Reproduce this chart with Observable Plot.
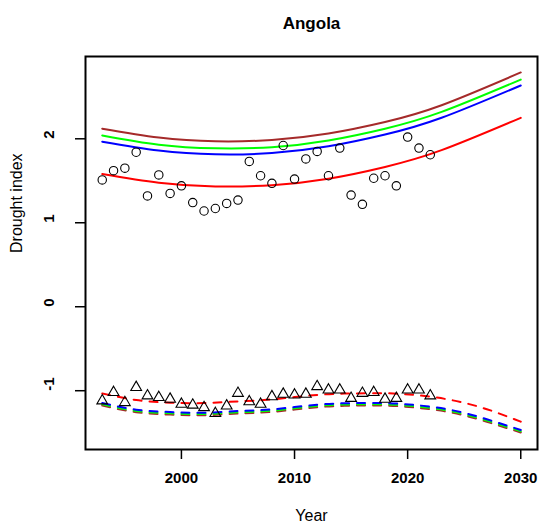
<!DOCTYPE html>
<html>
<head>
<meta charset="utf-8">
<script src="https://cdn.jsdelivr.net/npm/d3@7"></script>
<script src="https://cdn.jsdelivr.net/npm/@observablehq/plot@0.6"></script>
<style>
  html, body { margin: 0; padding: 0; background: #fff; }
</style>
</head>
<body>
<div id="chart"></div>
<script>
// Observed drought index per year (circles: index A, triangles: index B)
const years = d3.range(1993, 2023);
const obsCircles = [1.51, 1.62, 1.65, 1.84, 1.32, 1.57, 1.35, 1.44, 1.24, 1.14,
                    1.17, 1.23, 1.27, 1.73, 1.56, 1.47, 1.92, 1.52, 1.76, 1.85,
                    1.56, 1.89, 1.33, 1.22, 1.53, 1.56, 1.44, 2.02, 1.89, 1.81];
const obsTriangles = [-1.12, -1.02, -1.14, -0.96, -1.06, -1.08, -1.10, -1.16, -1.17, -1.20,
                      -1.27, -1.18, -1.03, -1.13, -1.16, -1.07, -1.04, -1.05, -1.04, -0.95,
                      -0.99, -0.99, -1.09, -1.03, -1.02, -1.10, -1.09, -0.99, -0.99, -1.06];

// Projected trends (solid: upper index, dashed: lower index)
const trendYears = [1993, 1998, 2003, 2008, 2013, 2018, 2023, 2030];
const solidBrown = [2.12, 2.015, 1.97, 1.986, 2.063, 2.20, 2.40, 2.79];
const solidGreen = [2.04, 1.93, 1.887, 1.90, 1.98, 2.12, 2.32, 2.705];
const solidBlue  = [1.965, 1.86, 1.815, 1.83, 1.91, 2.05, 2.25, 2.635];
const solidRed   = [1.58, 1.477, 1.432, 1.448, 1.525, 1.665, 1.865, 2.25];

const dashYears = [1993, 1996, 1999, 2002, 2005, 2008, 2012, 2015, 2018, 2021, 2024, 2027, 2030];
const dashRed   = [-1.032, -1.111, -1.143, -1.147, -1.127, -1.103, -1.05, -1.033, -1.03, -1.055, -1.115, -1.22, -1.369];
const dashBlue  = [-1.147, -1.226, -1.254, -1.262, -1.242, -1.222, -1.167, -1.148, -1.147, -1.175, -1.234, -1.34, -1.468];
const dashGreen = [-1.162, -1.241, -1.269, -1.277, -1.257, -1.237, -1.182, -1.163, -1.162, -1.19, -1.249, -1.355, -1.483];
const dashBrown = [-1.177, -1.256, -1.284, -1.292, -1.272, -1.252, -1.197, -1.178, -1.177, -1.205, -1.264, -1.37, -1.498];

const xTicks = [2000, 2010, 2020, 2030];
const yTicks = [-1, 0, 1, 2];

const zip = (xs, ys) => xs.map((x, i) => ({year: x, value: ys[i]}));

const trendLine = (xs, ys, color, dashed) =>
  Plot.line(zip(xs, ys), {
    x: "year", y: "value", stroke: color, strokeWidth: 2,
    curve: "natural", strokeDasharray: dashed ? "8,8" : null
  });

const chart = Plot.plot({
  width: 542,
  height: 526,
  marginLeft: 85,
  marginRight: 5,
  marginTop: 56,
  marginBottom: 77,
  style: {fontFamily: "'Liberation Sans', Arial, Helvetica, sans-serif", background: "#fff", color: "#000"},
  x: {domain: [1991.52, 2031.48]},
  y: {domain: [-1.70, 2.98]},
  marks: [
    Plot.axisX({ticks: xTicks, tickSize: 10, tickPadding: 13, tickFormat: "d",
                fontSize: 15, fontWeight: "bold", label: null, strokeWidth: 1.5}),
    Plot.axisY({ticks: yTicks, tickSize: 10, tickFormat: () => "", label: null, strokeWidth: 1.5}),
    Plot.text(yTicks, {y: d => d, text: d => String(d), frameAnchor: "left",
                       dx: -36, rotate: -90, fontSize: 15, fontWeight: "bold"}),
    Plot.text(["Angola"], {frameAnchor: "top", dy: -40, fontSize: 17, fontWeight: "bold"}),
    Plot.text(["Year"], {frameAnchor: "bottom", dy: 71, fontSize: 16}),
    Plot.text(["Drought index"], {frameAnchor: "left", dx: -69, rotate: -90, fontSize: 16}),

    trendLine(trendYears, solidBrown, "#A52A2A", false),
    trendLine(trendYears, solidGreen, "#00FF00", false),
    trendLine(trendYears, solidBlue, "#0000FF", false),
    trendLine(trendYears, solidRed, "#FF0000", false),

    trendLine(dashYears, dashBrown, "#A52A2A", true),
    trendLine(dashYears, dashGreen, "#00FF00", true),
    trendLine(dashYears, dashBlue, "#0000FF", true),
    trendLine(dashYears, dashRed, "#FF0000", true),

    Plot.dot(zip(years, obsCircles), {x: "year", y: "value", r: 4.2, stroke: "#000", fill: "none", strokeWidth: 1.1}),
    Plot.dot(zip(years, obsTriangles), {x: "year", y: "value", r: 4, symbol: "triangle",
                                        stroke: "#000", fill: "none", strokeWidth: 1.1}),
    Plot.frame({stroke: "#000", strokeWidth: 2})
  ]
});

document.getElementById("chart").appendChild(chart);
</script>
</body>
</html>
